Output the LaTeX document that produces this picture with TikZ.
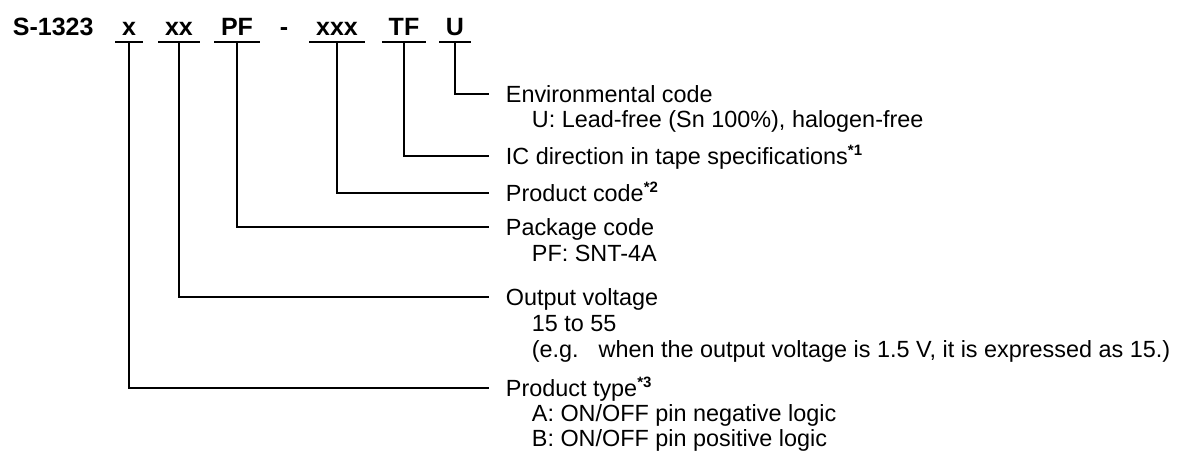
\documentclass[tikz,border=0pt]{standalone}
\usepackage{fontspec}
\setmainfont{Liberation Sans}
\newcommand{\Note}[1]{\raisebox{9pt}{\fontsize{15}{15}\selectfont\bfseries *#1}}

\begin{document}
\begin{tikzpicture}[x=1pt, y=-1pt, line width=1.8pt,
    code/.style={anchor=base, font=\fontsize{25}{25}\selectfont\bfseries, inner xsep=6pt, inner ysep=6pt, text depth=0pt},
    head/.style={anchor=west, font=\fontsize{23.4}{26}\selectfont, inner xsep=16pt, inner ysep=0pt, text height=16.5pt, text depth=0pt},
    sub/.style={anchor=base west, font=\fontsize{23.4}{26}\selectfont, inner sep=0pt}]
    \useasboundingbox (0,0) rectangle (1177,453);

    \begin{scope} % Part number
        \node[code, anchor=base west, inner xsep=0pt] (pn) at (12,35) {S-1323};
        \node[code] (cx) at (129,35) {x};
        \node[code] (cxx) at (179,35) {xx};
        \node[code] (cpf) at (237,35) {PF};
        \node[code] (cdash) at (284,35) {-};
        \node[code] (cxxx) at (337,35) {xxx};
        \node[code] (ctf) at (404,35) {TF};
        \node[code] (cu) at (455,35) {U};
        \foreach \c in {cx,cxx,cpf,cxxx,ctf,cu}
            \draw (\c.south west) -- (\c.south east);
    \end{scope}

    \begin{scope} % Descriptions
        \node[head] (envhead) at (489,94) {Environmental code};
        \node[sub] (envsub) at (531,127) {U: Lead-free (Sn 100\%), halogen-free};
        \node[head] (tapehead) at (489,156) {IC direction in tape specifications\Note{1}};
        \node[head] (prodhead) at (489,193) {Product code\Note{2}};
        \node[head] (pkghead) at (489,227) {Package code};
        \node[sub] (pkgsub) at (531,261) {PF: SNT-4A};
        \node[head] (volthead) at (489,297) {Output voltage};
        \node[sub] (voltsubA) at (531,331) {15 to 55};
        \node[sub] (voltsubB) at (531,357) {(e.g.\hspace{20pt}when the output voltage is 1.5 V, it is expressed as 15.)};
        \node[head] (typehead) at (489,388) {Product type\Note{3}};
        \node[sub] (typesubA) at (531,421) {A: ON/OFF pin negative logic};
        \node[sub] (typesubB) at (531,446) {B: ON/OFF pin positive logic};
    \end{scope}

    % Leader lines
    \foreach \a/\b in {cu/envhead, ctf/tapehead, cxxx/prodhead, cpf/pkghead, cxx/volthead, cx/typehead}
        \draw (\a.south) |- (\b.west);
\end{tikzpicture}
\end{document}
